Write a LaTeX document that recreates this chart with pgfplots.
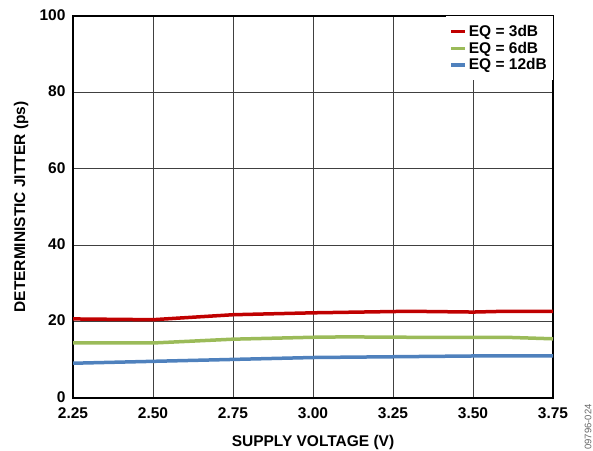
\documentclass[border=0pt]{standalone}
\usepackage{fontspec}
\setmainfont{Liberation Sans}
\usepackage{pgfplots}
\pgfplotsset{compat=1.18}
\definecolor{cRed}{RGB}{192,0,0}
\definecolor{cGreen}{RGB}{155,187,89}
\definecolor{cBlue}{RGB}{79,129,189}
\begin{document}
\begin{tikzpicture}
\begin{axis}[name=ax, scale only axis, width=480pt, height=382pt,
  xmin=2.25, xmax=3.75, ymin=0, ymax=100,
  xtick={2.25,2.5,2.75,3.0,3.25,3.5,3.75},
  xticklabels={2.25,2.50,2.75,3.00,3.25,3.50,3.75},
  ytick={0,20,40,60,80,100},
  grid=major, major grid style={draw=black!75, line width=0.8pt},
  axis line style={line width=1.2pt},
  major tick length=0pt,
  tick label style={font=\fontsize{15.5}{17}\selectfont\bfseries},
  /pgf/number format/assume math mode=true,
  xticklabel style={yshift=-6.5pt},
  yticklabel style={xshift=-4pt, yshift=1pt},
  legend style={at={(1,1)}, anchor=north east, draw=none, fill=white,
    inner xsep=4pt, inner ysep=7pt, row sep=0pt,
    font=\fontsize{15.5}{15.5}\selectfont\bfseries},
  legend cell align=left,
  legend image code/.code={\draw[#1, line width=3.2pt] (0pt,0pt) -- (14pt,0pt);},
]
\addplot[cRed, line width=3.5pt] coordinates {(2.25,20.7) (2.50,20.5) (2.75,21.8) (3.00,22.3) (3.30,22.7) (3.50,22.5) (3.60,22.7) (3.75,22.7)};
\addlegendentry{EQ = 3dB}
\addplot[cGreen, line width=3.5pt] coordinates {(2.25,14.4) (2.50,14.4) (2.75,15.4) (3.00,15.9) (3.10,16.0) (3.30,15.9) (3.60,15.9) (3.75,15.5)};
\addlegendentry{EQ = 6dB}
\addplot[cBlue, line width=3.5pt] coordinates {(2.25,9.1) (2.50,9.6) (2.75,10.1) (3.00,10.6) (3.25,10.8) (3.50,11.0) (3.75,11.0)};
\addlegendentry{EQ = 12dB}
\end{axis}
\node[rotate=90, font=\fontsize{15.5}{17}\selectfont\bfseries] at ([xshift=-52pt]ax.west) {DETERMINISTIC JITTER (ps)};
\node[font=\fontsize{15.5}{17}\selectfont\bfseries] at ([yshift=-44pt]ax.south) {SUPPLY VOLTAGE (V)};
\node[rotate=90, font=\fontsize{9.5}{10}\selectfont, text=black!60, inner sep=0pt] at ([xshift=35pt,yshift=-29pt]ax.south east) {09796-024};
\coordinate (bl) at ([shift={(-73pt,-52pt)}]ax.south west);
\coordinate (tr) at ([shift={(40pt,16pt)}]ax.north east);
\pgfresetboundingbox
\useasboundingbox (bl) rectangle (tr);
\end{tikzpicture}
\end{document}
